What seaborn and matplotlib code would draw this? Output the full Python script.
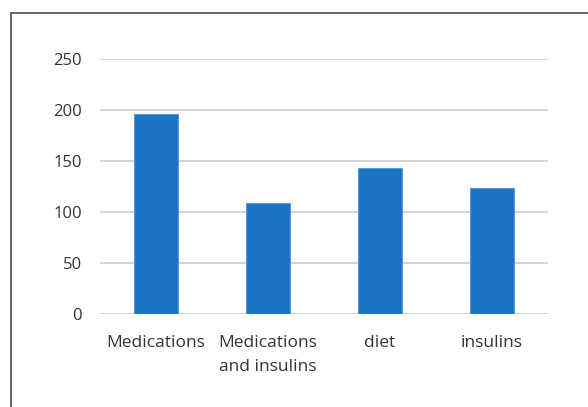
import matplotlib
matplotlib.use("Agg")
import matplotlib.pyplot as plt
import seaborn as sns
import pandas as pd
from matplotlib.patches import Rectangle

categories = ["Medications", "Medications\nand insulins", "diet", "insulins"]
values = [196, 109, 143, 124]
yticks = [0, 50, 100, 150, 200, 250]

sns.set_style("white")
plt.rcParams['font.family'] = ['Open Sans', 'DejaVu Sans']

fig = plt.figure(figsize=(5.88, 4.07), dpi=100)
ax = fig.add_axes([100/588, 1-314.3/407, 448/588, (314.3-59)/407])

df = pd.DataFrame({"cat": categories, "val": values})
sns.barplot(data=df, x="cat", y="val", ax=ax, color="#1B75C4", width=0.4,
            edgecolor="#5b9bd5", linewidth=0.8, saturation=1, zorder=3)

ax.set_ylim(0, 250)
ax.set_xlim(-0.5, 3.5)
ax.set_yticks(yticks)
ax.yaxis.grid(True, color="#d4d4d4", linewidth=1.4, zorder=0)
ax.set_axisbelow(True)
for s in ax.spines.values():
    s.set_visible(False)
ax.set_xlabel("")
ax.set_ylabel("")
ax.tick_params(axis="y", length=0, pad=13, labelsize=12, labelcolor="#333333")
ax.tick_params(axis="x", length=0, pad=15, labelsize=12.5, labelcolor="#333333")
for lbl in ax.get_xticklabels():
    lbl.set_linespacing(1.65)
    lbl.set_verticalalignment("top")

fig.patches.append(Rectangle((11/588, -0.1), 1.2, 1-13/407+0.1, transform=fig.transFigure,
                             fill=False, edgecolor="#595959", linewidth=1.3))

fig.savefig("out.png", dpi=100)
